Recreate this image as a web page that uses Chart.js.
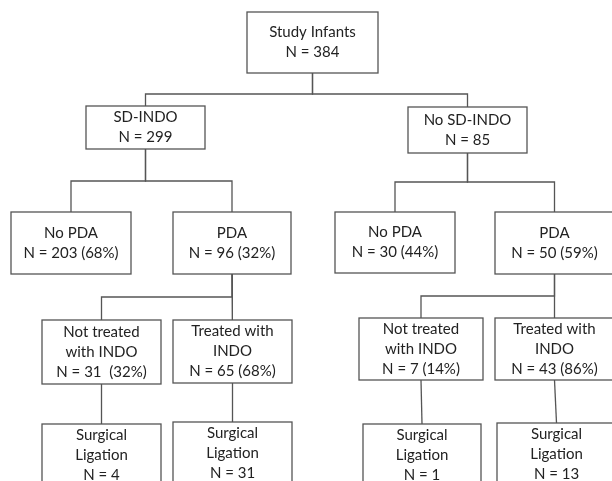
<!DOCTYPE html>
<html>
<head>
<meta charset="utf-8">
<script src="https://cdn.jsdelivr.net/npm/chart.js@4.4.1/dist/chart.umd.min.js"></script>
<style>
  html, body { margin: 0; padding: 0; background: #fff; }
  canvas { display: block; }
</style>
</head>
<body>
<canvas id="flowChart" width="612" height="481"></canvas>
<script>
// node names, counts and percentages
const nodeNames = [
  ['Study Infants'],
  ['SD-INDO'], ['No SD-INDO'],
  ['No PDA'], ['PDA'], ['No PDA'], ['PDA'],
  ['Not treated', 'with INDO'], ['Treated with', 'INDO'],
  ['Not treated', 'with INDO'], ['Treated with', 'INDO'],
  ['Surgical', 'Ligation'], ['Surgical', 'Ligation'],
  ['Surgical', 'Ligation'], ['Surgical', 'Ligation']
];
const nodeCounts = [384, 299, 85, 203, 96, 30, 50, 31, 65, 7, 43, 4, 31, 1, 13];
const nodePercents = [null, null, null, 68, 32, 44, 59, 32, 68, 14, 86, null, null, null, null];
const nodeParents = [-1, 0, 0, 1, 1, 2, 2, 4, 4, 6, 6, 7, 8, 9, 10];

// layout: box edges [left, top, right, bottom] in chart units, and where each parent's branch line runs
const boxLayout = [
  [247, 12, 378, 73],
  [86, 106, 205, 149], [408, 107, 527, 153],
  [11, 212, 131, 274], [173, 212, 291, 274], [335, 212, 455, 273], [495, 212, 614, 274],
  [42, 320, 161, 384], [173, 320, 292, 383], [359, 318, 483, 380], [495, 318, 614, 380],
  [42, 424, 161, 486], [173, 422, 292, 484], [363, 424, 481, 486], [497, 423, 616, 485]
];
const branchY = { 0: 94, 1: 181, 2: 182, 4: 297, 6: 296 };

const lineColor = '#555';
const textColor = '#222';

function boxCenter(i) {
  const b = boxLayout[i];
  return { x: (b[0] + b[2]) / 2, y: (b[1] + b[3]) / 2 };
}

function nodeLines(i) {
  const lines = nodeNames[i].slice();
  let last = 'N = ' + nodeCounts[i];
  if (nodePercents[i] !== null) last += (i === 7 ? '  (' : ' (') + nodePercents[i] + '%)';
  lines.push(last);
  return lines;
}

// connectors: parent bottom -> branch level -> child top
const connectorSets = [];
nodeParents.forEach((p, i) => {
  if (p < 0) return;
  const pb = boxLayout[p], cb = boxLayout[i];
  const px = boxCenter(p).x, cx = boxCenter(i).x;
  const by = branchY[p] !== undefined ? branchY[p] : (pb[3] + cb[1]) / 2;
  const pts = branchY[p] !== undefined
    ? [{ x: px, y: pb[3] }, { x: px, y: by }, { x: cx, y: by }, { x: cx, y: cb[1] }]
    : [{ x: px, y: pb[3] }, { x: cx, y: cb[1] }];
  connectorSets.push({
    data: pts,
    showLine: true,
    borderColor: lineColor,
    borderWidth: 1.3,
    pointRadius: 0,
    tension: 0,
    fill: false,
    clip: false
  });
});

const boxPlugin = {
  id: 'boxes',
  afterDatasetsDraw(chart) {
    const c = chart.ctx;
    const xs = chart.scales.x, ys = chart.scales.y;
    c.save();
    boxLayout.forEach((b, i) => {
      const x0 = xs.getPixelForValue(b[0]), y0 = ys.getPixelForValue(b[1]);
      const x1 = xs.getPixelForValue(b[2]), y1 = ys.getPixelForValue(b[3]);
      c.fillStyle = '#fff';
      c.fillRect(x0, y0, x1 - x0, y1 - y0);
      c.strokeStyle = lineColor;
      c.lineWidth = 1.3;
      c.strokeRect(x0, y0, x1 - x0, y1 - y0);

      const lines = nodeLines(i);
      const cx = (x0 + x1) / 2, cy = (y0 + y1) / 2;
      const step = 20;
      c.fillStyle = textColor;
      c.font = '15px Lato';
      c.textAlign = 'center';
      c.textBaseline = 'middle';
      lines.forEach((t, k) => {
        c.fillText(t, cx, cy + (k - (lines.length - 1) / 2) * step);
      });
    });
    c.restore();
  }
};

new Chart(document.getElementById('flowChart'), {
  type: 'scatter',
  data: {
    datasets: [
      ...connectorSets,
      {
        data: boxLayout.map((b, i) => boxCenter(i)),
        pointRadius: 0
      }
    ]
  },
  options: {
    responsive: false,
    animation: false,
    devicePixelRatio: 1,
    layout: { padding: 0 },
    plugins: {
      legend: { display: false },
      tooltip: { enabled: false }
    },
    scales: {
      x: { type: 'linear', min: 0, max: 612, display: false },
      y: { type: 'linear', min: 0, max: 481, reverse: true, display: false }
    }
  },
  plugins: [boxPlugin]
});
</script>
</body>
</html>
